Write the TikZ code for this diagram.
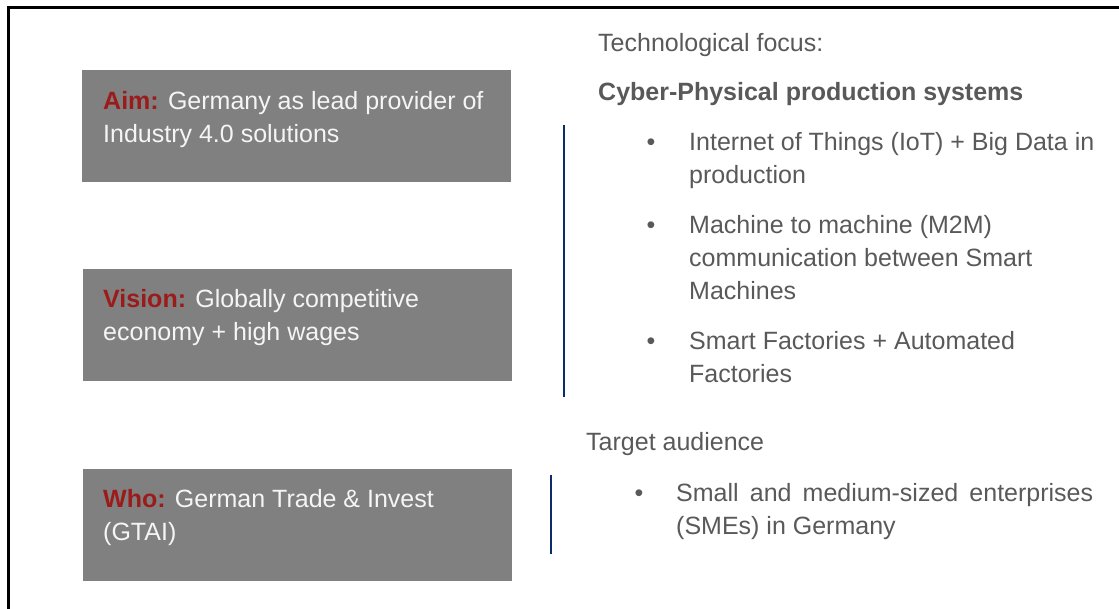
\documentclass[tikz,border=0pt]{standalone}
\usepackage{fontspec}
\setmainfont{Liberation Sans}
\definecolor{boxgray}{RGB}{128,128,128}
\definecolor{aimred}{RGB}{155,27,27}
\definecolor{txtgray}{RGB}{89,89,89}
\definecolor{boxwhite}{RGB}{245,245,245}
\definecolor{navy}{RGB}{10,45,105}
\begin{document}
\begin{tikzpicture}[x=1pt,y=-1pt,
  panel/.style={fill=boxgray, draw=none, inner sep=0, anchor=north west, minimum width=429, minimum height=112},
  boxtext/.style={text=boxwhite, font=\fontsize{25}{33}\selectfont, align=left, anchor=base west, inner sep=0},
  bodytext/.style={text=txtgray, font=\fontsize{25}{33}\selectfont, align=left, anchor=base west, inner sep=0},
  bullet/.style={text=txtgray, font=\fontsize{25}{33}\selectfont, anchor=base, inner sep=0},
  divider/.style={draw=navy, line width=2},
  frame/.style={draw=black, line width=3}
]
\useasboundingbox (0,0) rectangle (1119,609);
% outer frame (top and left edges)
\coordinate (fbl) at (8,612);
\coordinate (ftl) at (8,8);
\coordinate (ftr) at (1122,8);
\draw[frame] (fbl) -- (ftl) -- (ftr);

% left panels (text nodes placed at the baseline of their last line)
\node[panel] (aim) at (82,70) {};
\node[boxtext] (aimt) at (103,143) {\textcolor{aimred}{\textbf{Aim:}} Germany as lead provider of\\Industry 4.0 solutions};
\node[panel] (vision) at (83,269) {};
\node[boxtext] (visiont) at (103,341) {\textcolor{aimred}{\textbf{Vision:}} Globally competitive\\economy + high wages};
\node[panel] (who) at (83,469) {};
\node[boxtext] (whot) at (103,540) {\textcolor{aimred}{\textbf{Who:}} German Trade \& Invest\\(GTAI)};

% dividers
\coordinate (d1a) at (564,125);
\coordinate (d1b) at (564,397);
\draw[divider] (d1a) -- (d1b);
\coordinate (d2a) at (551,475);
\coordinate (d2b) at (551,554);
\draw[divider] (d2a) -- (d2b);

% right texts
\node[bodytext] (tech) at (598,52) {Technological focus:};
\node[bodytext, font=\fontsize{25}{33}\selectfont\bfseries] (cps) at (598,101) {Cyber-Physical production systems};
\node[bullet] (b1) at (651,151) {•};
\node[bodytext] (i1) at (689,184) {Internet of Things (IoT) + Big Data in\\production};
\node[bullet] (b2) at (651,234) {•};
\node[bodytext] (i2) at (689,300) {Machine to machine (M2M)\\communication between Smart\\Machines};
\node[bullet] (b3) at (651,350) {•};
\node[bodytext] (i3) at (689,383) {Smart Factories + Automated\\Factories};
\node[bodytext] (aud) at (586,450) {Target audience};
\node[bullet] (b4) at (639,501) {•};
\node[bodytext, text width=417, align=justify, anchor=base west] (i4) at (676,501) {\hyphenpenalty=10000 Small and medium-sized enterprises (SMEs) in Germany};
\end{tikzpicture}
\end{document}
